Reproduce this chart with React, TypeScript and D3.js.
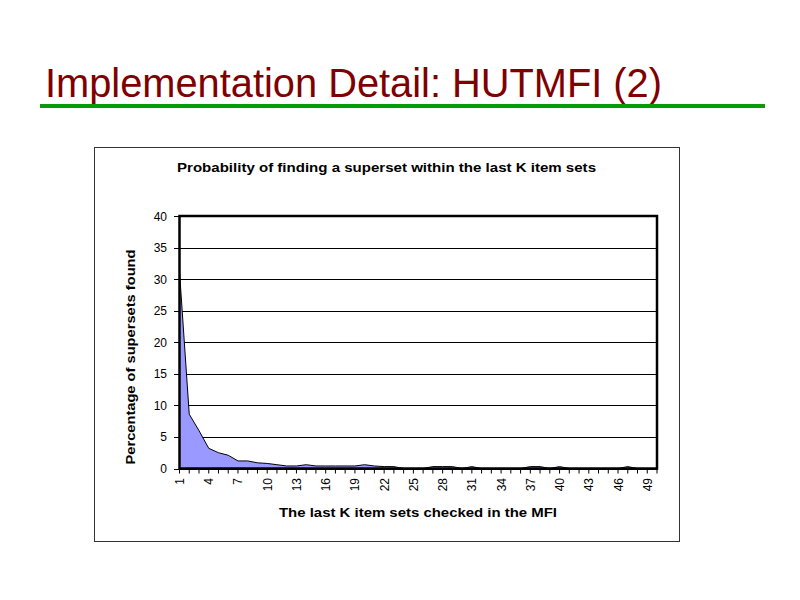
import React from "react";
import * as d3 from "d3";

const categories: number[] = d3.range(1, 51);
const percentFound: number[] = [
  31.2, 8.6, 6.0, 3.2, 2.5, 2.1, 1.2, 1.2, 0.9, 0.8,
  0.6, 0.4, 0.4, 0.6, 0.4, 0.4, 0.4, 0.4, 0.4, 0.6,
  0.4, 0.3, 0.3, 0, 0, 0, 0.3, 0.3, 0.3, 0,
  0.3, 0, 0, 0, 0, 0, 0.3, 0.3, 0, 0.3,
  0, 0, 0, 0, 0, 0, 0.3, 0, 0, 0,
];
const yTicks: number[] = [0, 5, 10, 15, 20, 25, 30, 35, 40];
const xTickLabels: number[] = categories.filter((c) => (c - 1) % 3 === 0);

const slideTitle = "Implementation Detail: HUTMFI (2)";
const chartTitle = "Probability of finding a superset within the last K item sets";
const xTitle = "The last K item sets checked in the MFI";
const yTitle = "Percentage of supersets found";

export default function App() {
  const left = 179.5;
  const right = 657;
  const top = 216;
  const bottom = 468.5;
  const x = d3.scaleLinear().domain([1, 50]).range([left, right]);
  const y = d3.scaleLinear().domain([0, 40]).range([bottom, top]);
  const data = categories.map((c, i) => ({ c, v: percentFound[i] }));
  const area = d3
    .area<{ c: number; v: number }>()
    .x((d) => x(d.c))
    .y0(y(0))
    .y1((d) => y(d.v));
  const line = d3
    .line<{ c: number; v: number }>()
    .x((d) => x(d.c))
    .y((d) => y(d.v));
  const font = "Arial, 'Liberation Sans', sans-serif";

  return (
    <svg
      width={800}
      height={600}
      style={{ position: "absolute", left: 0, top: 0, background: "#fff" }}
      fontFamily={font}
    >
      <rect x={0} y={0} width={800} height={600} fill="#fff" />
      <text x={45} y={97} fontSize={40} fill="#800000" textLength={617} lengthAdjust="spacingAndGlyphs">
        {slideTitle}
      </text>
      <rect x={40} y={104} width={725} height={4} fill="#079c07" />

      <rect x={94.5} y={147.5} width={585} height={394} fill="#fff" stroke="#333" strokeWidth={1} />
      <text x={386.5} y={172} fontSize={12.5} fontWeight="bold" textAnchor="middle" textLength={419} lengthAdjust="spacingAndGlyphs">
        {chartTitle}
      </text>

      {yTicks.map((t) => (
        <g key={t}>
          <line x1={left} x2={right} y1={Math.round(y(t)) + 0.5} y2={Math.round(y(t)) + 0.5} stroke="#000" strokeWidth={1} />
          <line x1={174} x2={left} y1={Math.round(y(t)) + 0.5} y2={Math.round(y(t)) + 0.5} stroke="#000" strokeWidth={1} />
          <text x={167} y={y(t) + 4.5} fontSize={12} textAnchor="end" fill="#000">
            {t}
          </text>
        </g>
      ))}

      <path d={area(data) ?? ""} fill="#9999ff" />
      <path d={line(data) ?? ""} fill="none" stroke="#000" strokeWidth={1} />

      <rect x={left} y={top} width={right - left} height={bottom - top} fill="none" stroke="#000" strokeWidth={2.5} />

      {categories.map((c) => (
        <line key={c} x1={x(c)} x2={x(c)} y1={bottom} y2={bottom + 5} stroke="#000" strokeWidth={1} />
      ))}
      {xTickLabels.map((c) => (
        <text
          key={c}
          transform={`translate(${x(c) + 4.5},${478}) rotate(-90)`}
          fontSize={12}
          textAnchor="end"
          fill="#000"
        >
          {c}
        </text>
      ))}

      <text x={418} y={517} fontSize={12.5} fontWeight="bold" textAnchor="middle" textLength={278} lengthAdjust="spacingAndGlyphs">
        {xTitle}
      </text>
      <text
        transform={`translate(134.5,357) rotate(-90)`}
        fontSize={12.5}
        fontWeight="bold"
        textAnchor="middle"
        textLength={215}
        lengthAdjust="spacingAndGlyphs"
      >
        {yTitle}
      </text>
    </svg>
  );
}
